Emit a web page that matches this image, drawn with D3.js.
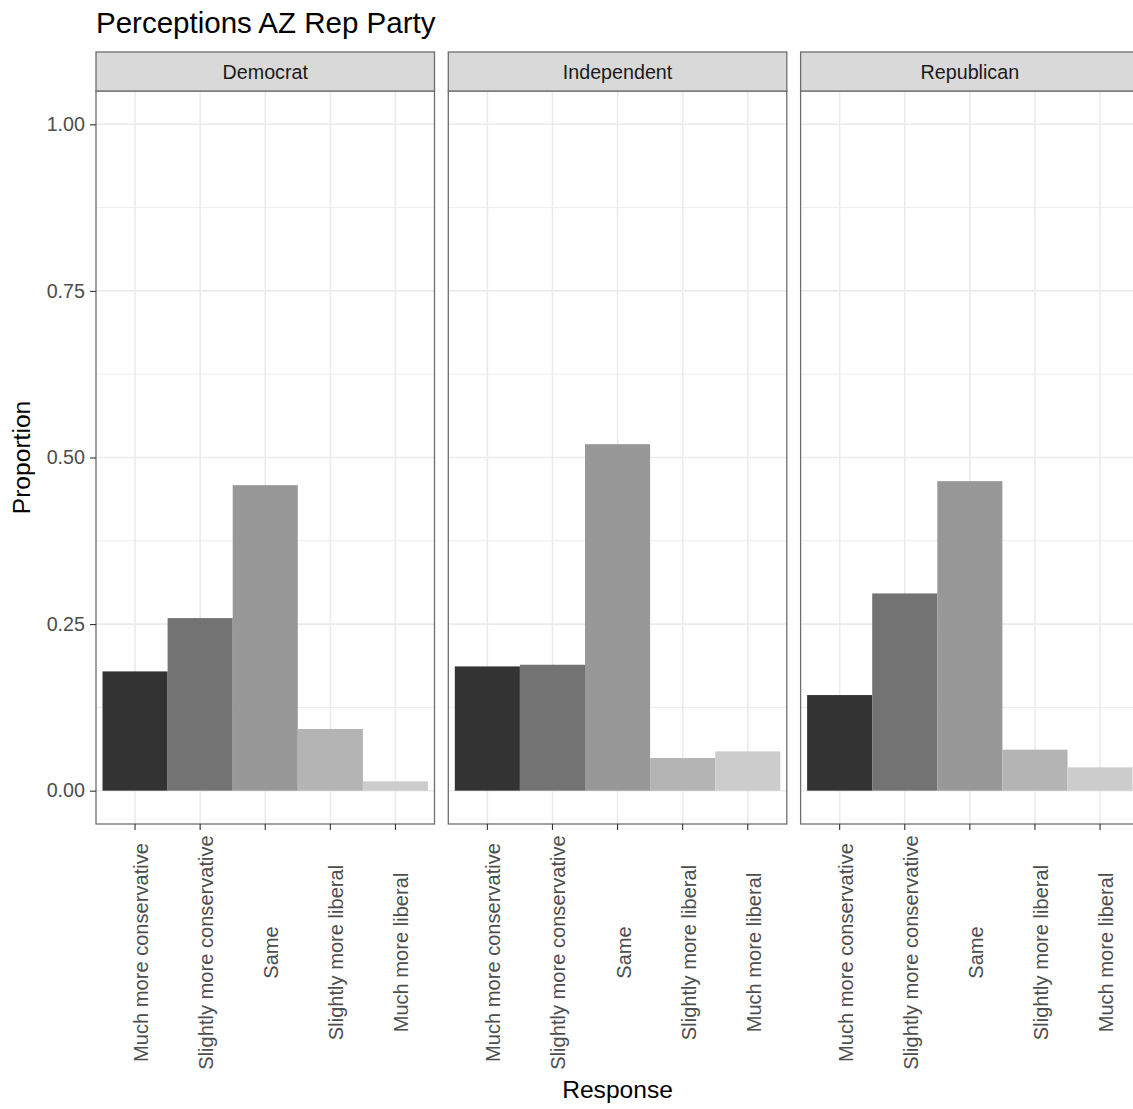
<!DOCTYPE html>
<html>
<head>
<meta charset="utf-8">
<script src="https://cdn.jsdelivr.net/npm/d3@7"></script>
<style>
  html, body { margin: 0; padding: 0; background: #fff; }
  svg { display: block; font-family: "Liberation Sans", Arial, Helvetica, sans-serif; }
</style>
</head>
<body>
<svg id="chart" width="1133" height="1109"></svg>
<script>
// ---- data ----
const categories = ["Much more conservative", "Slightly more conservative", "Same", "Slightly more liberal", "Much more liberal"];
const parties = ["Democrat", "Independent", "Republican"];
const democrat = [0.179, 0.259, 0.4585, 0.0925, 0.014];
const independent = [0.1865, 0.189, 0.520, 0.049, 0.059];
const republican = [0.1435, 0.296, 0.4645, 0.0615, 0.035];
const yTicks = [0, 0.25, 0.5, 0.75, 1.0];
const yTickLabels = ["0.00", "0.25", "0.50", "0.75", "1.00"];
const yMinor = [0.125, 0.375, 0.625, 0.875];
const fills = ["#333333", "#737373", "#989898", "#B4B4B4", "#CCCCCC"];
const title = "Perceptions AZ Rep Party";
const xTitle = "Response";
const yTitle = "Proportion";

const seriesByParty = [democrat, independent, republican];

// ---- layout ----
const svg = d3.select("#chart");
const panelLeft0 = 96;
const panelW = 338.5;
const panelGap = 13.8;
const stripTop = 52;
const stripBottom = 91;
const panelBottom = 824;
const xLabelCenterY = 952.5;

const y = d3.scaleLinear().domain([-0.05, 1.05]).range([panelBottom, stripBottom]);
const x = d3.scaleBand().domain(categories).range([0, panelW]).paddingInner(0).paddingOuter(0.1);

const fillScale = d3.scaleOrdinal().domain(categories).range(fills);

// title
svg.append("text")
  .attr("x", panelLeft0).attr("y", 33)
  .attr("font-size", 29.5).attr("fill", "#000")
  .text(title);

parties.forEach((party, pi) => {
  const px = panelLeft0 + pi * (panelW + panelGap);
  const g = svg.append("g").attr("transform", `translate(${px},0)`);

  g.append("rect").attr("x", 0).attr("y", stripBottom).attr("width", panelW)
    .attr("height", panelBottom - stripBottom).attr("fill", "#fff");

  g.selectAll(".minor").data(yMinor).enter().append("line")
    .attr("x1", 0).attr("x2", panelW)
    .attr("y1", d => y(d)).attr("y2", d => y(d))
    .attr("stroke", "#EBEBEB").attr("stroke-width", 0.9);
  g.selectAll(".majorH").data(yTicks).enter().append("line")
    .attr("x1", 0).attr("x2", panelW)
    .attr("y1", d => y(d)).attr("y2", d => y(d))
    .attr("stroke", "#EBEBEB").attr("stroke-width", 1.6);
  g.selectAll(".majorV").data(categories).enter().append("line")
    .attr("x1", d => x(d) + x.bandwidth() / 2).attr("x2", d => x(d) + x.bandwidth() / 2)
    .attr("y1", stripBottom).attr("y2", panelBottom)
    .attr("stroke", "#EBEBEB").attr("stroke-width", 1.6);

  const vals = seriesByParty[pi];
  g.selectAll(".bar").data(categories.map((c, i) => ({ c, v: vals[i] }))).enter().append("rect")
    .attr("x", d => x(d.c))
    .attr("width", x.bandwidth())
    .attr("y", d => y(d.v))
    .attr("height", d => y(0) - y(d.v))
    .attr("fill", d => fillScale(d.c));

  g.append("rect").attr("x", 0).attr("y", stripBottom).attr("width", panelW)
    .attr("height", panelBottom - stripBottom).attr("fill", "none")
    .attr("stroke", "#6e6e6e").attr("stroke-width", 1.3);

  g.append("rect").attr("x", 0).attr("y", stripTop).attr("width", panelW)
    .attr("height", stripBottom - stripTop).attr("fill", "#D9D9D9")
    .attr("stroke", "#6e6e6e").attr("stroke-width", 1.3);
  g.append("text").attr("x", panelW / 2).attr("y", (stripTop + stripBottom) / 2)
    .attr("text-anchor", "middle").attr("dominant-baseline", "central")
    .attr("font-size", 19.7).attr("fill", "#1A1A1A").text(party);

  const xAxis = d3.axisBottom(x).tickSize(6).tickPadding(0);
  const xa = g.append("g").attr("transform", `translate(0,${panelBottom})`).call(xAxis);
  xa.select(".domain").remove();
  xa.selectAll(".tick line").attr("stroke", "#333333").attr("stroke-width", 1.1);
  xa.selectAll(".tick text")
    .attr("font-family", "Liberation Sans, Arial, sans-serif")
    .attr("font-size", 20.1).attr("fill", "#4D4D4D")
    .attr("text-anchor", "middle")
    .attr("transform", `translate(0,${xLabelCenterY - panelBottom}) rotate(-90)`)
    .attr("x", 0).attr("y", 0).attr("dy", 13);
});

const yAxis = d3.axisLeft(y).tickValues(yTicks).tickFormat((d, i) => yTickLabels[i]).tickSize(6).tickPadding(5);
const ya = svg.append("g").attr("transform", `translate(${panelLeft0},0)`).call(yAxis);
ya.select(".domain").remove();
ya.selectAll(".tick line").attr("stroke", "#333333").attr("stroke-width", 1.1);
ya.selectAll(".tick text")
  .attr("font-family", "Liberation Sans, Arial, sans-serif")
  .attr("font-size", 19.7).attr("fill", "#4D4D4D");

const panelsRight = panelLeft0 + 3 * panelW + 2 * panelGap;
svg.append("text")
  .attr("x", (panelLeft0 + panelsRight) / 2).attr("y", 1098)
  .attr("text-anchor", "middle").attr("font-size", 24.6).attr("fill", "#000")
  .text(xTitle);
svg.append("text")
  .attr("transform", `translate(30,${(stripBottom + panelBottom) / 2}) rotate(-90)`)
  .attr("text-anchor", "middle").attr("font-size", 24.6).attr("fill", "#000")
  .text(yTitle);
</script>
</body>
</html>
